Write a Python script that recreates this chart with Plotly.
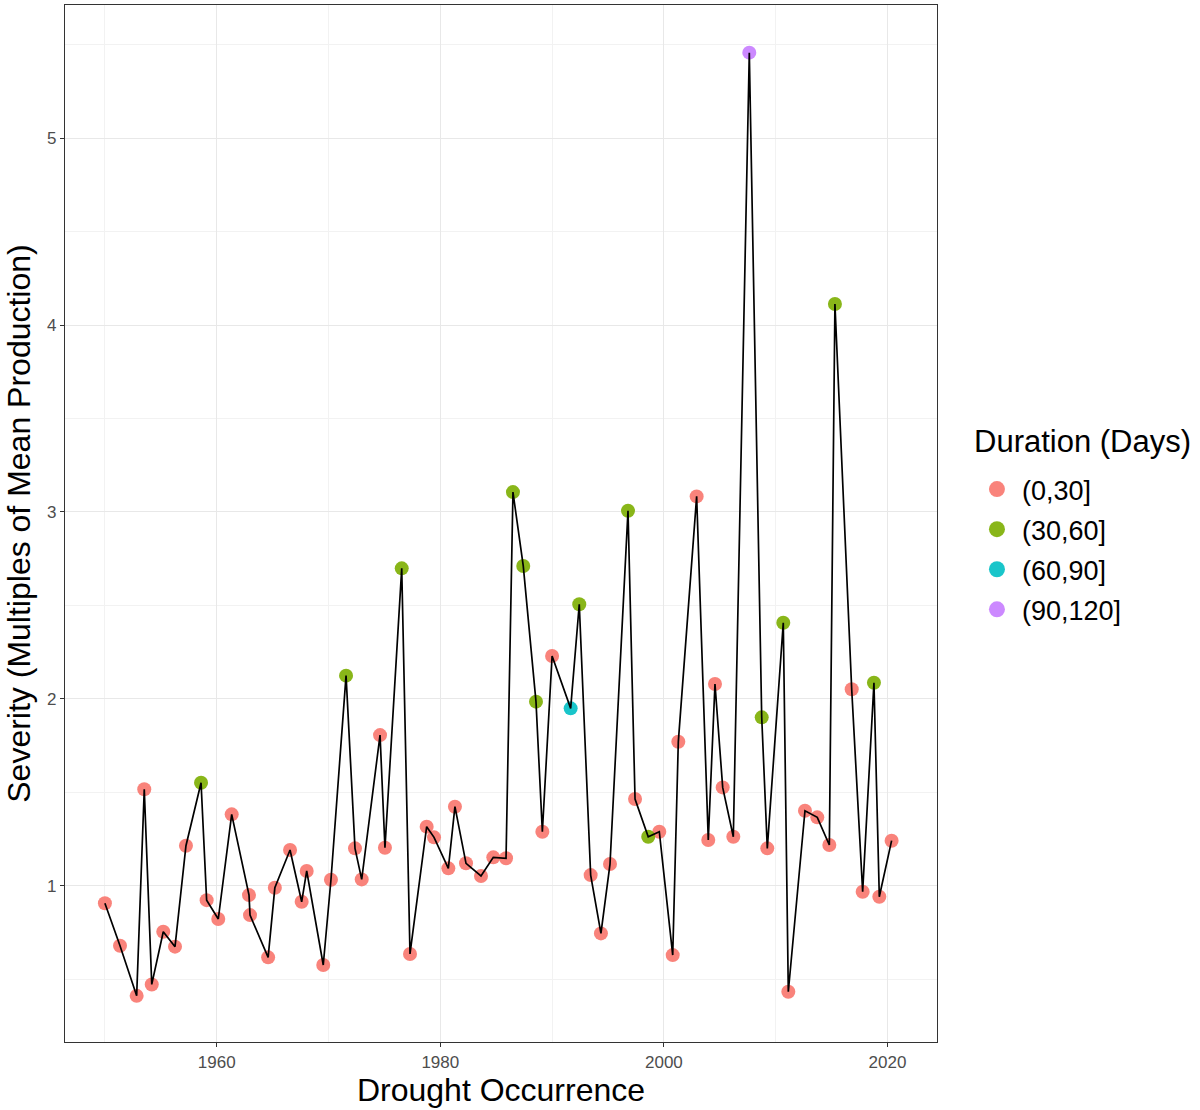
import plotly.graph_objects as go

years = [1950.0, 1951.35, 1952.84, 1953.52, 1954.19, 1955.22, 1956.27, 1957.25, 1958.6, 1959.1,
         1960.14, 1961.34, 1962.89, 1962.98, 1964.6, 1965.2, 1966.56, 1967.6, 1968.05, 1969.53,
         1970.22, 1971.57, 1972.37, 1972.97, 1974.61, 1975.05, 1976.55, 1977.29, 1978.78, 1979.44,
         1980.72, 1981.31, 1982.3, 1983.64, 1984.74, 1985.88, 1986.5, 1987.42, 1988.56, 1989.13,
         1990.0, 1991.66, 1992.43, 1993.45, 1994.37, 1995.18, 1996.79, 1997.42, 1998.6, 1999.59,
         2000.79, 2001.29, 2002.93, 2003.97, 2004.57, 2005.26, 2006.21, 2007.64, 2008.75, 2009.25,
         2010.68, 2011.13, 2012.62, 2013.72, 2014.8, 2015.3, 2016.8, 2017.78, 2018.79, 2019.27,
         2020.37]
severity = [0.906, 0.679, 0.411, 1.516, 0.472, 0.754, 0.674, 1.214, 1.551, 0.923,
            0.822, 1.382, 0.950, 0.843, 0.617, 0.989, 1.191, 0.914, 1.079, 0.576,
            1.032, 2.124, 1.20, 1.034, 1.806, 1.203, 2.698, 0.635, 1.316, 1.259,
            1.093, 1.423, 1.120, 1.052, 1.152, 1.147, 3.106, 2.711, 1.985, 1.289,
            2.229, 1.949, 2.506, 1.057, 0.745, 1.116, 3.006, 1.464, 1.262, 1.289,
            0.629, 1.770, 3.083, 1.245, 2.079, 1.526, 1.262, 5.457, 1.901, 1.20,
            2.407, 0.433, 1.401, 1.366, 1.218, 4.112, 2.051, 0.968, 2.086, 0.941,
            1.241]
duration = ["(0,30]"] * 8 + ["(30,60]"] + ["(0,30]"] * 12 + ["(30,60]"] + ["(0,30]"] * 4 + ["(30,60]"] \
    + ["(0,30]"] * 9 + ["(30,60]"] * 3 + ["(0,30]"] * 2 + ["(60,90]"] + ["(30,60]"] + ["(0,30]"] * 3 \
    + ["(30,60]"] + ["(0,30]"] + ["(30,60]"] + ["(0,30]"] * 8 + ["(90,120]"] + ["(30,60]"] + ["(0,30]"] \
    + ["(30,60]"] + ["(0,30]"] * 4 + ["(30,60]"] + ["(0,30]"] * 2 + ["(30,60]"] + ["(0,30]"] * 2

categories = ["(0,30]", "(30,60]", "(60,90]", "(90,120]"]
colors = ["#F8766D", "#7CAE00", "#00BFC4", "#C77CFF"]

x_ticks = [1960, 1980, 2000, 2020]
y_ticks = [1, 2, 3, 4, 5]

FONT = "Liberation Sans, Arial"

fig = go.Figure()
for cat, col in zip(categories, colors):
    xs = [x for x, d in zip(years, duration) if d == cat]
    ys = [y for y, d in zip(severity, duration) if d == cat]
    fig.add_trace(go.Scatter(x=xs, y=ys, mode="markers", name=cat, showlegend=False,
                             marker=dict(color=col, size=14, opacity=0.9, line=dict(width=0))))
fig.add_trace(go.Scatter(x=years, y=severity, mode="lines", showlegend=False,
                         line=dict(color="black", width=1.7)))
# legend entries
for cat, col in zip(categories, colors):
    fig.add_trace(go.Scatter(x=[None], y=[None], mode="markers", name=cat, legendgroup=cat,
                             marker=dict(color=col, size=20, opacity=0.9)))

axis_common = dict(showline=True, mirror=True, linecolor="#333333", linewidth=1.3,
                   ticks="outside", ticklen=4, tickcolor="#333333",
                   tickfont=dict(family=FONT, size=17, color="#4D4D4D"),
                   gridcolor="#E8E8E8", gridwidth=1.3, zeroline=False, automargin=False,
                   minor=dict(showgrid=True, gridcolor="#F2F2F2", gridwidth=0.9))

fig.update_xaxes(range=[1946.43, 2024.43], tickvals=x_ticks,
                 title=dict(text="Drought Occurrence", standoff=3,
                            font=dict(family=FONT, size=32, color="black")),
                 minor_dtick=10, minor_tick0=1950, **axis_common)
fig.update_yaxes(range=[0.164, 5.712], tickvals=y_ticks,
                 title=dict(text="Severity (Multiples of Mean Production)", standoff=6,
                            font=dict(family=FONT, size=32, color="black")),
                 minor_dtick=1, minor_tick0=0.5, **axis_common)

fig.add_annotation(text="Duration (Days)", xref="paper", yref="paper",
                   x=1.0401, y=0.5786, xanchor="left", yanchor="middle", showarrow=False,
                   font=dict(family=FONT, size=31, color="black"))

fig.update_layout(
    width=1200, height=1110,
    margin=dict(l=65, r=263, t=5, b=68),
    plot_bgcolor="white", paper_bgcolor="white",
    legend=dict(font=dict(family=FONT, size=27, color="black"),
                x=1.0401, xanchor="left", y=0.5564, yanchor="top",
                itemsizing="trace", itemwidth=40, tracegroupgap=2),
)

fig.write_html("out.html", config={"displayModeBar": False},
               post_script="document.body.style.margin='0';")
